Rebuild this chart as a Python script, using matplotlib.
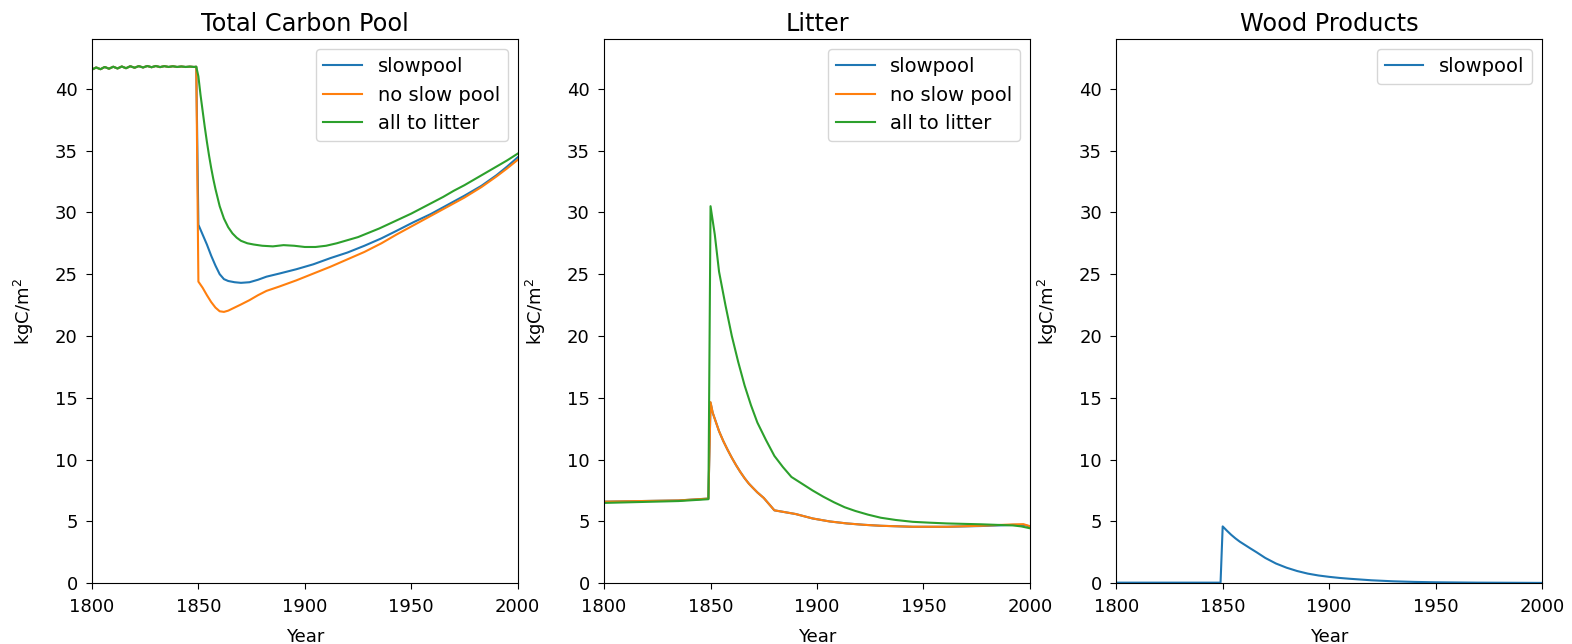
import matplotlib
matplotlib.use("Agg")
import matplotlib.pyplot as plt

# ---- Total carbon pool (kgC/m2) ----
pre_years = [1800, 1802, 1804, 1806, 1808, 1810, 1812, 1814, 1816, 1818, 1820,
             1822, 1824, 1826, 1828, 1830, 1832, 1834, 1836, 1838, 1840, 1842,
             1844, 1846, 1848, 1849]
pre_total = [41.55, 41.72, 41.58, 41.76, 41.62, 41.78, 41.64, 41.80, 41.66,
             41.82, 41.70, 41.83, 41.72, 41.84, 41.74, 41.84, 41.75, 41.83,
             41.76, 41.82, 41.76, 41.80, 41.76, 41.79, 41.76, 41.78]

slow_total_years = [1850, 1851, 1852, 1854, 1856, 1858, 1860, 1862, 1864,
                    1867, 1870, 1874, 1878, 1882, 1888, 1896, 1904, 1912,
                    1920, 1928, 1936, 1943, 1951, 1959, 1967, 1975, 1983,
                    1990, 1995, 2000]
slow_total = [29.0, 28.6, 28.2, 27.4, 26.5, 25.7, 25.0, 24.6, 24.45, 24.35,
              24.3, 24.35, 24.55, 24.8, 25.05, 25.4, 25.8, 26.3, 26.75, 27.3,
              27.9, 28.5, 29.2, 29.85, 30.6, 31.35, 32.15, 33.0, 33.7, 34.45]

noslow_total_years = [1850, 1852, 1854, 1856, 1858, 1860, 1862, 1864, 1867,
                      1870, 1874, 1878, 1882, 1888, 1896, 1904, 1912, 1920,
                      1928, 1936, 1943, 1951, 1959, 1967, 1975, 1983, 1990,
                      1995, 2000]
noslow_total = [24.4, 23.9, 23.3, 22.75, 22.3, 22.0, 21.95, 22.05, 22.3,
                22.55, 22.9, 23.3, 23.65, 24.0, 24.5, 25.05, 25.6, 26.2, 26.8,
                27.5, 28.2, 28.95, 29.7, 30.45, 31.2, 32.05, 32.9, 33.55,
                34.25]

litter_total_years = [1850, 1851, 1852, 1853, 1854, 1855, 1856, 1857, 1858,
                      1859, 1860, 1862, 1864, 1866, 1868, 1870, 1873, 1876,
                      1880, 1885, 1890, 1895, 1900, 1905, 1910, 1915, 1920,
                      1925, 1930, 1935, 1940, 1945, 1950, 1955, 1960, 1965,
                      1970, 1975, 1980, 1985, 1990, 1995, 2000]
litter_total = [41.0, 39.5, 38.2, 36.9, 35.7, 34.6, 33.6, 32.7, 31.9, 31.2,
                30.5, 29.5, 28.8, 28.3, 27.95, 27.7, 27.5, 27.4, 27.3, 27.25,
                27.35, 27.3, 27.2, 27.2, 27.3, 27.5, 27.75, 28.0, 28.35, 28.7,
                29.1, 29.5, 29.9, 30.35, 30.8, 31.25, 31.75, 32.2, 32.7, 33.2,
                33.7, 34.2, 34.75]

# ---- Litter (kgC/m2) ----
slow_litter_years = [1800, 1835, 1849, 1850, 1851, 1852, 1854, 1856, 1858,
                     1860, 1862, 1864, 1866, 1868, 1870, 1872, 1875, 1878,
                     1880, 1890, 1898, 1906, 1914, 1922, 1930, 1945, 1961,
                     1977, 1992, 1997, 2000]
slow_litter = [6.6, 6.7, 6.85, 14.6, 13.8, 13.3, 12.3, 11.5, 10.8, 10.15,
               9.55, 9.0, 8.5, 8.06, 7.7, 7.35, 6.9, 6.3, 5.9, 5.6, 5.24,
               5.0, 4.84, 4.73, 4.65, 4.57, 4.57, 4.63, 4.72, 4.72, 4.6]
noslow_litter = [6.6, 6.7, 6.85, 14.65, 13.8, 13.3, 12.3, 11.5, 10.8, 10.15,
                 9.55, 9.0, 8.5, 8.06, 7.7, 7.35, 6.9, 6.3, 5.9, 5.6, 5.24,
                 5.0, 4.84, 4.73, 4.65, 4.57, 4.57, 4.65, 4.76, 4.78, 4.62]

all_litter_years = [1800, 1835, 1849, 1850, 1852, 1854, 1857, 1860, 1863,
                    1866, 1869, 1872, 1876, 1880, 1884, 1888, 1893, 1898,
                    1903, 1908, 1913, 1918, 1924, 1930, 1937, 1945, 1953,
                    1961, 1970, 1977, 1985, 1992, 1996, 2000]
all_litter = [6.5, 6.65, 6.8, 30.5, 28.2, 25.2, 22.5, 20.0, 17.9, 16.0, 14.4,
              13.0, 11.6, 10.3, 9.4, 8.6, 8.05, 7.5, 7.0, 6.55, 6.15, 5.85,
              5.55, 5.3, 5.12, 4.97, 4.9, 4.84, 4.8, 4.77, 4.72, 4.68, 4.6,
              4.45]

# ---- Wood products (kgC/m2) ----
wood_years = [1800, 1849, 1850, 1852, 1854, 1856, 1858, 1860, 1863, 1866,
              1870, 1875, 1880, 1885, 1890, 1895, 1900, 1905, 1910, 1920,
              1930, 1940, 1950, 1970, 2000]
wood = [0.05, 0.05, 4.6, 4.25, 3.92, 3.63, 3.37, 3.15, 2.82, 2.5, 2.05, 1.6,
        1.26, 0.99, 0.78, 0.63, 0.52, 0.43, 0.36, 0.24, 0.16, 0.11, 0.08,
        0.05, 0.03]

labels = ["slowpool", "no slow pool", "all to litter"]
titles = ["Total Carbon Pool", "Litter", "Wood Products"]
colors = ["#1f77b4", "#ff7f0e", "#2ca02c"]

FS_TICK = 13
FS_LABEL = 13
FS_LEGEND = 14
FS_TITLE = 17.3

fig, axes = plt.subplots(1, 3, figsize=(15.72, 6.44), dpi=100)
fig.subplots_adjust(left=0.0585, right=0.9809, top=0.939, bottom=0.0943,
                    wspace=0.203)

ax = axes[0]
ax.plot(pre_years + slow_total_years, pre_total + slow_total,
        color=colors[0], label=labels[0])
ax.plot(pre_years + noslow_total_years, pre_total + noslow_total,
        color=colors[1], label=labels[1])
ax.plot(pre_years + litter_total_years, pre_total + litter_total,
        color=colors[2], label=labels[2])

ax = axes[1]
ax.plot(slow_litter_years, slow_litter, color=colors[0], label=labels[0])
ax.plot(slow_litter_years, noslow_litter, color=colors[1], label=labels[1])
ax.plot(all_litter_years, all_litter, color=colors[2], label=labels[2])

ax = axes[2]
ax.plot(wood_years, wood, color=colors[0], label=labels[0])

for ax, title in zip(axes, titles):
    ax.set_xlim(1800, 2000)
    ax.set_ylim(0, 44)
    ax.set_xticks([1800, 1850, 1900, 1950, 2000])
    ax.set_yticks(range(0, 41, 5))
    ax.tick_params(labelsize=FS_TICK, length=4.3, pad=6)
    ax.set_title(title, fontsize=FS_TITLE)
    ax.set_xlabel("Year", fontsize=FS_LABEL)
    ax.set_ylabel("kgC/m$^2$", fontsize=FS_LABEL)
    ax.xaxis.set_label_coords(0.5, -0.083)
    ax.yaxis.set_label_coords(-0.131, 0.5)
    ax.legend(loc="upper right", fontsize=FS_LEGEND)

fig.savefig("out.png", dpi=100)
